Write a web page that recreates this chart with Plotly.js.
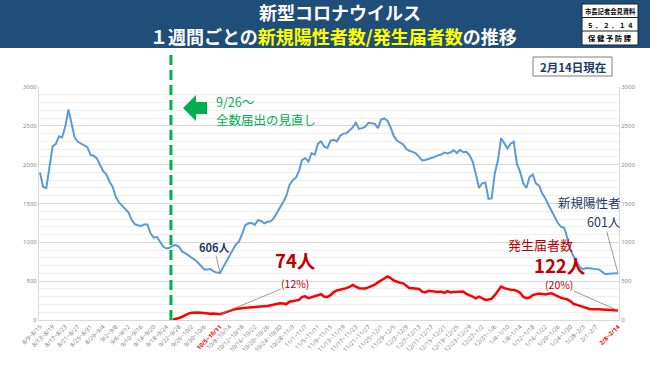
<!DOCTYPE html>
<html><head><meta charset="utf-8">
<script src="https://cdn.plot.ly/plotly-3.0.1.min.js"></script>
<style>html,body{margin:0;padding:0;background:#fff}#chart{width:650px;height:365px}</style>
</head><body><div id="chart"></div>
<script>
// ---- data ----
const categories = [
"8/9~8/15","8/10~8/16","8/11~8/17","8/12~8/18","8/13~8/19","8/14~8/20","8/15~8/21","8/16~8/22","8/17~8/23","8/18~8/24","8/19~8/25","8/20~8/26","8/21~8/27","8/22~8/28","8/23~8/29","8/24~8/30","8/25~8/31","8/26~9/1","8/27~9/2","8/28~9/3","8/29~9/4","8/30~9/5","8/31~9/6",
"9/1~9/7","9/2~9/8","9/3~9/9","9/4~9/10","9/5~9/11","9/6~9/12","9/7~9/13","9/8~9/14","9/9~9/15","9/10~9/16","9/11~9/17","9/12~9/18","9/13~9/19","9/14~9/20","9/15~9/21","9/16~9/22","9/17~9/23","9/18~9/24","9/19~9/25","9/20~9/26","9/21~9/27","9/22~9/28","9/23~9/29","9/24~9/30","9/25~10/1","9/26~10/2","9/27~10/3","9/28~10/4","9/29~10/5","9/30~10/6",
"10/1~10/7","10/2~10/8","10/3~10/9","10/4~10/10","10/5~10/11","10/6~10/12","10/7~10/13","10/8~10/14","10/9~10/15","10/10~10/16","10/11~10/17","10/12~10/18","10/13~10/19","10/14~10/20","10/15~10/21","10/16~10/22","10/17~10/23","10/18~10/24","10/19~10/25","10/20~10/26","10/21~10/27","10/22~10/28","10/23~10/29","10/24~10/30","10/25~10/31","10/26~11/1","10/27~11/2","10/28~11/3","10/29~11/4","10/30~11/5","10/31~11/6",
"11/1~11/7","11/2~11/8","11/3~11/9","11/4~11/10","11/5~11/11","11/6~11/12","11/7~11/13","11/8~11/14","11/9~11/15","11/10~11/16","11/11~11/17","11/12~11/18","11/13~11/19","11/14~11/20","11/15~11/21","11/16~11/22","11/17~11/23","11/18~11/24","11/19~11/25","11/20~11/26","11/21~11/27","11/22~11/28","11/23~11/29","11/24~11/30","11/25~12/1","11/26~12/2","11/27~12/3","11/28~12/4","11/29~12/5","11/30~12/6",
"12/1~12/7","12/2~12/8","12/3~12/9","12/4~12/10","12/5~12/11","12/6~12/12","12/7~12/13","12/8~12/14","12/9~12/15","12/10~12/16","12/11~12/17","12/12~12/18","12/13~12/19","12/14~12/20","12/15~12/21","12/16~12/22","12/17~12/23","12/18~12/24","12/19~12/25","12/20~12/26","12/21~12/27","12/22~12/28","12/23~12/29","12/24~12/30","12/25~12/31","12/26~1/1","12/27~1/2","12/28~1/3","12/29~1/4","12/30~1/5","12/31~1/6",
"1/1~1/7","1/2~1/8","1/3~1/9","1/4~1/10","1/5~1/11","1/6~1/12","1/7~1/13","1/8~1/14","1/9~1/15","1/10~1/16","1/11~1/17","1/12~1/18","1/13~1/19","1/14~1/20","1/15~1/21","1/16~1/22","1/17~1/23","1/18~1/24","1/19~1/25","1/20~1/26","1/21~1/27","1/22~1/28","1/23~1/29","1/24~1/30","1/25~1/31","1/26~2/1","1/27~2/2","1/28~2/3","1/29~2/4","1/30~2/5","1/31~2/6",
"2/1~2/7","2/2~2/8","2/3~2/9","2/4~2/10","2/5~2/11","2/6~2/12","2/7~2/13","2/8~2/14"
];

const tickLabels = ["8/9~8/15","8/13~8/19","8/17~8/23","8/21~8/27","8/25~8/31","8/29~9/4","9/2~9/8","9/6~9/12","9/10~9/16","9/14~9/20","9/18~9/24","9/22~9/28","9/26~10/2","9/30~10/6","10/5~10/11","10/8~10/14","10/12~10/18","10/16~10/22","10/20~10/26","10/24~10/30","10/28~11/3","11/1~11/7","11/5~11/11","11/9~11/15","11/13~11/19","11/17~11/23","11/21~11/27","11/25~12/1","11/29~12/5","12/3~12/9","12/7~12/13","12/11~12/17","12/15~12/21","12/19~12/25","12/23~12/29","12/27~1/2","12/31~1/6","1/4~1/10","1/8~1/14","1/12~1/18","1/16~1/22","1/20~1/26","1/24~1/30","1/28~2/3","2/1~2/7","2/8~2/14"];
const highlightTicks = ["10/5~10/11","2/8~2/14"];

// 新規陽性者数 (weekly rolling), one value per category
const newPositives = [
1900,1710,1700,1970,2240,2265,2365,2350,2490,2710,
2510,2345,2295,2275,2250,2225,2125,2115,2080,2000,
1915,1875,1780,1715,1585,1515,1470,1425,1385,1290,
1235,1220,1210,1230,1230,1115,1060,1070,1010,945,
920,930,955,965,945,880,860,835,800,775,
740,700,650,650,655,625,610,606,680,770,
830,900,970,1010,1110,1220,1245,1250,1225,1285,
1275,1245,1265,1270,1310,1380,1440,1520,1600,1740,
1800,1830,1920,2060,2085,2040,2150,2130,2270,2300,
2230,2215,2310,2320,2300,2370,2400,2405,2440,2480,
2540,2460,2470,2490,2540,2535,2525,2470,2580,2595,
2565,2480,2370,2310,2290,2260,2200,2175,2165,2145,
2100,2055,2060,2070,2085,2100,2120,2130,2155,2145,
2160,2185,2150,2190,2160,2165,2120,2040,1880,1700,
1760,1770,1560,1565,1890,2060,2340,2280,2210,2270,
2295,2010,1910,1760,1700,1840,1875,1760,1730,1630,
1566,1480,1400,1330,1245,1200,1188,1050,900,815,
745,675,655,670,665,656,655,650,614,590,
595,600,605,601
];

// 発生届者数 (from 9/20~9/26 window onward)
const notifications = [
3,12,25,42,65,82,92,96,96,92,
85,78,80,84,80,74,88,105,118,130,
142,150,155,158,160,165,168,172,175,178,
180,190,200,210,215,212,205,235,245,248,
258,298,305,280,295,305,320,332,300,298,
320,360,380,388,395,410,425,450,430,410,
405,405,420,435,455,485,515,535,560,540,
508,490,480,472,440,410,408,408,400,365,
356,375,370,365,360,365,350,372,355,362,
365,370,368,335,322,300,280,300,280,258,
265,275,320,380,430,410,395,390,385,375,
350,300,280,290,320,335,340,335,330,338,
343,325,300,285,275,265,240,205,195,180,
170,150,142,137,140,138,135,130,128,125,
124,122
];
const notifCategories = categories.slice(categories.length - notifications.length);

// ---- layout helpers (pixel -> paper) ----
const L = 39, R = 619, T = 87, B = 320;
const px2x = p => (p - L) / (R - L);
const px2y = p => (B - p) / (B - T);
const JP = "'Noto Sans CJK JP', 'Noto Sans', sans-serif";
const xRange = [-0.32, categories.length - 1 + 0.32];

function txt(text, px, py, size, color, extra) {
  return Object.assign({
    text: text, xref: 'paper', yref: 'paper', x: px2x(px), y: px2y(py),
    xanchor: 'center', yanchor: 'middle', showarrow: false, borderpad: 0,
    font: {family: JP, size: size, color: color}
  }, extra || {});
}
function rect(x0, y0, x1, y1, fill, line, lw) {
  return {type: 'rect', xref: 'paper', yref: 'paper', layer: 'above',
    x0: px2x(x0), x1: px2x(x1), y0: px2y(y1), y1: px2y(y0),
    fillcolor: fill, line: {color: line, width: lw}};
}
function hline(x0, x1, y, color) {
  return {type: 'line', xref: 'paper', yref: 'paper', layer: 'above',
    x0: px2x(x0), x1: px2x(x1), y0: px2y(y), y1: px2y(y), line: {color: color, width: 1}};
}
function pathPx(pts) {
  return 'M ' + pts.map(p => px2x(p[0]) + ',' + px2y(p[1])).join(' L ') + ' Z';
}

const iMin = newPositives.indexOf(Math.min(...newPositives.slice(40, 80)));
const lastI = categories.length - 1;
const notifAtMin = notifications[notifCategories.indexOf(categories[iMin])];

const traces = [
  {x: categories, y: newPositives, type: 'scatter', mode: 'lines',
   line: {color: '#5b9bd5', width: 2}, hoverinfo: 'skip'},
  {x: notifCategories, y: notifications, type: 'scatter', mode: 'lines', yaxis: 'y2',
   line: {color: '#ff0000', width: 2.5}, hoverinfo: 'skip'}
];

const dashIdx = categories.indexOf("9/20~9/26") - 0.55;
const dashX = (dashIdx - xRange[0]) / (xRange[1] - xRange[0]);

const layout = {
  width: 650, height: 365,
  margin: {l: L, r: 650 - R, t: T, b: 365 - B, pad: 0},
  paper_bgcolor: '#ffffff', plot_bgcolor: '#ffffff',
  showlegend: false,
  font: {family: JP},
  xaxis: {
    type: 'category', range: xRange, automargin: false,
    tickvals: tickLabels,
    ticktext: tickLabels.map(t => highlightTicks.includes(t) ? '<b><span style="color:#ff0000">' + t + '</span></b>' : t),
    tickangle: -45, tickfont: {size: 6, color: '#7f7f7f', family: 'Noto Sans, sans-serif'},
    showgrid: false, showline: true, linecolor: '#d9d9d9', linewidth: 1, ticks: '', zeroline: false
  },
  yaxis: {
    range: [0, 3000], dtick: 500, automargin: false,
    tickfont: {size: 6, color: '#8c8c8c', family: 'Noto Sans, sans-serif'},
    showgrid: true, gridcolor: '#d9d9d9', gridwidth: 1,
    minor: {dtick: 100, showgrid: true, gridcolor: '#f0f0f0', gridwidth: 1, ticks: ''},
    showline: true, linecolor: '#d9d9d9', zeroline: false, ticks: ''
  },
  yaxis2: {
    range: [0, 3000], dtick: 500, overlaying: 'y', side: 'right', automargin: false,
    tickfont: {size: 6, color: '#8c8c8c', family: 'Noto Sans, sans-serif'},
    showgrid: false, showline: true, linecolor: '#d9d9d9', zeroline: false, ticks: ''
  },
  shapes: [
    // header band
    rect(0, 0, 650, 48, '#1f4e79', '#1f4e79', 0),
    // header right box
    rect(582, 4, 638, 45, '#ffffff', '#222222', 1),
    hline(582, 638, 17.5, '#222222'),
    hline(582, 638, 31, '#222222'),
    // date box
    rect(533, 57, 612, 76, '#ffffff', '#7f7f7f', 1),
    // dashed separator
    {type: 'line', xref: 'paper', yref: 'paper', layer: 'above',
     x0: dashX, x1: dashX, y0: 0, y1: px2y(51),
     line: {color: '#00b050', width: 3, dash: '10px,5px'}},
    // green arrow
    {type: 'path', xref: 'paper', yref: 'paper', layer: 'above',
     path: pathPx([[183,108],[196,95],[196,102],[207,102],[207,114],[196,114],[196,121]]),
     fillcolor: '#00b050', line: {width: 0}}
  ],
  annotations: [
    txt('<b>新型コロナウイルス</b>', 340, 12, 18, '#ffffff'),
    txt('<b>１週間ごとの<span style="color:#ffff00">新規陽性者数/発生届者数</span>の推移</b>', 333, 36.5, 18, '#ffffff'),
    txt('<b>市長記者会見資料</b>', 610, 11, 6.3, '#000000'),
    txt('<b>５ ． ２ ． １ ４</b>', 610, 24.5, 6.5, '#000000'),
    txt('<b>保 健 予 防 課</b>', 610, 38, 7.3, '#000000'),
    txt('<b>2月14日現在</b>', 572.5, 66.5, 11.5, '#1f3864'),
    txt('9/26～', 215, 101, 12.5, '#00b050', {xanchor: 'left'}),
    txt('全数届出の見直し', 215, 119, 12.5, '#00b050', {xanchor: 'left'}),
    // blue minimum
    {text: '<b>' + newPositives[iMin] + '人</b>', x: categories[iMin], y: newPositives[iMin], xref: 'x', yref: 'y',
     ax: -6, ay: -26, showarrow: true, arrowhead: 0, arrowwidth: 0.8, arrowcolor: '#7f7f7f', standoff: 0, borderpad: 0,
     font: {family: JP, size: 11, color: '#1f3864'}},
    // red at minimum
    txt('<b>' + notifAtMin + '人</b>', 295, 260, 18.5, '#c00000'),
    {text: '(12%)', x: categories[iMin], y: notifAtMin, xref: 'x', yref: 'y2',
     ax: 75, ay: -31, showarrow: true, arrowhead: 0, arrowwidth: 0.8, arrowcolor: '#7f7f7f', standoff: 0, borderpad: 0,
     font: {family: JP, size: 10.5, color: '#c00000'}},
    // last blue
    txt('新規陽性者', 589, 202, 12.5, '#1f3864'),
    {text: newPositives[lastI] + '人', x: categories[lastI], y: newPositives[lastI], xref: 'x', yref: 'y',
     ax: -14, ay: -52, showarrow: true, arrowhead: 0, arrowwidth: 0.8, arrowcolor: '#7f7f7f', standoff: 0, borderpad: 0,
     font: {family: JP, size: 12.5, color: '#1f3864'}},
    // last red
    txt('発生届者数', 540, 244, 13, '#c00000'),
    txt('<b>' + notifications[notifications.length - 1] + '人</b>', 560, 265, 18.5, '#c00000'),
    {text: '(20%)', x: categories[lastI], y: notifications[notifications.length - 1], xref: 'x', yref: 'y2',
     ax: -59, ay: -26, showarrow: true, arrowhead: 0, arrowwidth: 0.8, arrowcolor: '#7f7f7f', standoff: 0, borderpad: 0,
     font: {family: JP, size: 10.5, color: '#c00000'}}
  ]
};

Plotly.newPlot('chart', traces, layout, {staticPlot: true, displayModeBar: false});
</script></body></html>
